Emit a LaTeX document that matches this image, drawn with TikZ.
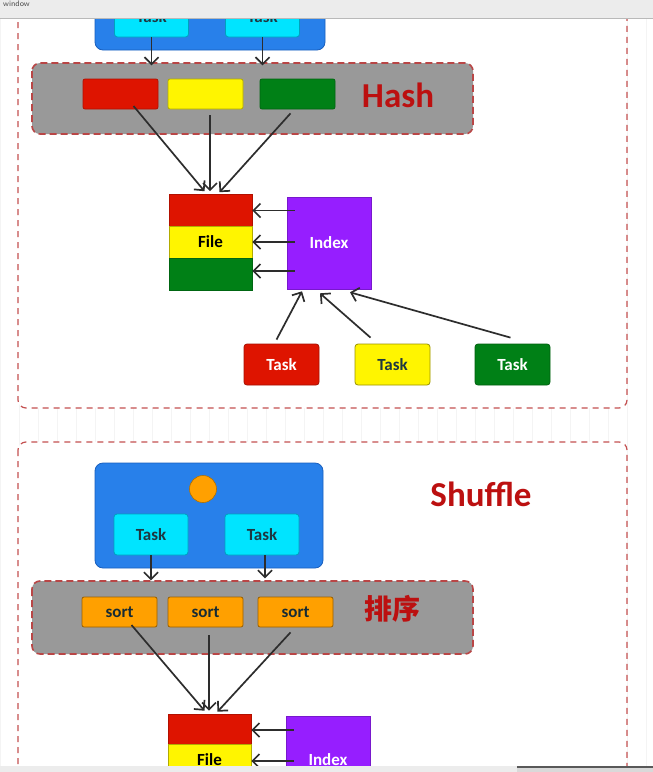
\documentclass[tikz,border=0pt]{standalone}
\usepackage{fontspec}
\setmainfont{Carlito}
\newfontfamily\cjk{Noto Sans CJK SC}
\usetikzlibrary{arrows.meta,calc}
\definecolor{hred}{RGB}{188,16,16}
\definecolor{dashc}{RGB}{196,80,80}
\definecolor{dashg}{RGB}{185,70,70}
\definecolor{bluebox}{RGB}{40,128,234}
\definecolor{blueedge}{RGB}{25,95,190}
\definecolor{cyanbox}{RGB}{0,228,255}
\definecolor{cyanedge}{RGB}{0,160,190}
\definecolor{grayp}{RGB}{153,153,153}
\definecolor{redb}{RGB}{222,20,0}
\definecolor{yellowb}{RGB}{255,245,0}
\definecolor{greenb}{RGB}{0,128,22}
\definecolor{purpleb}{RGB}{150,30,255}
\definecolor{orangeb}{RGB}{255,160,0}
\definecolor{darktxt}{RGB}{30,55,65}
\definecolor{linec}{RGB}{45,45,45}
\definecolor{gridc}{RGB}{244,244,244}
\definecolor{barc}{RGB}{236,236,236}
\tikzset{
  panel/.style={draw=dashc, dash pattern=on 6pt off 5pt, line width=1.2pt, rounded corners=8pt, fill=white},
  graypanel/.style={draw=dashg, dash pattern=on 7pt off 4pt, line width=1.6pt, rounded corners=8pt, fill=grayp},
  bluecont/.style={draw=blueedge, line width=0.8pt, fill=bluebox, rounded corners=8pt},
  cyantask/.style={draw=cyanedge, line width=0.8pt, fill=cyanbox, rounded corners=3pt, minimum width=74, minimum height=41, inner sep=0, font=\fontsize{17}{20}\selectfont\bfseries, text=darktxt},
  colbox/.style={rounded corners=2pt, minimum width=75, minimum height=30, inner sep=0, line width=0.8pt, font=\fontsize{17}{20}\selectfont\bfseries},
  taskbox/.style={rounded corners=3pt, minimum width=75, minimum height=41, inner sep=0, line width=0.8pt, font=\fontsize{17}{20}\selectfont\bfseries},
  band/.style={minimum width=83, minimum height=32, inner sep=0, line width=0.6pt, font=\fontsize{17}{20}\selectfont\bfseries},
  idxbox/.style={fill=purpleb, draw=purpleb!80!black, line width=0.6pt, minimum width=84, minimum height=92, inner sep=0, text=white, font=\fontsize{17}{20}\selectfont\bfseries},
  arr/.style={draw=linec, line width=1.7pt, -{Straight Barb[length=7pt,width=14pt]}},
  bigred/.style={text=hred, font=\fontsize{35}{40}\selectfont\bfseries}
}
\begin{document}
\begin{tikzpicture}[x=1pt,y=-1pt]
\useasboundingbox (0,0) rectangle (653,772);
\fill[white] (0,0) rectangle (653,772);
\draw[gridc, line width=0.6pt, step=19] (0,0) grid (653,772);

% ---------- Panel 1 ----------
\path[panel] (18,-30) rectangle (627,408);
\path[bluecont] (95,-55) rectangle (325,50);
\node[cyantask] (ta1) at (151.5,16.5) {Task};
\node[cyantask] (ta2) at (262.5,16.5) {Task};
\path[graypanel] (32,63) rectangle (473,134);
\draw[arr] (ta1.south) -- ($(ta1.south)+(0,28)$);
\draw[arr] (ta2.south) -- ($(ta2.south)+(0,28)$);
\node[colbox, fill=redb, draw=redb!80!black] (hr) at (120.5,94) {};
\node[colbox, fill=yellowb, draw=yellowb!70!black] (hy) at (205.5,94) {};
\node[colbox, fill=greenb, draw=greenb!80!black] (hg) at (297.5,94) {};
\node[bigred] (hash) at (398,95) {Hash};

\node[band, fill=redb, draw=redb!80!black] (fr) at (210.5,210.5) {};
\node[band, fill=yellowb, draw=yellowb!70!black] (fy) at (210.5,242) {File};
\node[band, fill=greenb, draw=greenb!80!black] (fg) at (210.5,274) {};
\node[idxbox] (idx) at (329,243) {Index};

\draw[arr] ($(hr.center)+(13,12)$) -- ($(fr.north)+(-6,-3)$);
\draw[arr] ($(hy.south)+(4.5,6)$) -- ($(fr.north)+(-0.5,-3)$);
\draw[arr] ($(hg.south)+(-7,4)$) -- ($(fr.north)+(9,-2)$);

\draw[arr] ($(idx.west |- fr.east)+(8,0)$) -- (fr.east);
\draw[arr] ($(idx.west |- fy.east)+(8,0)$) -- (fy.east);
\draw[arr] ($(idx.west |- fg.east)+(8,-3)$) -- ($(fg.east)+(0,-3)$);

\node[taskbox, fill=redb, draw=redb!75!black, text=white] (t1) at (281.5,364.5) {Task};
\node[taskbox, fill=yellowb, draw=yellowb!60!black, text=darktxt] (t2) at (392.5,364.5) {Task};
\node[taskbox, fill=greenb, draw=greenb!75!black, text=white] (t3) at (512.5,364.5) {Task};

\draw[arr] ($(t1.north)+(-5,-4)$) -- ($(idx.south)+(-27,2)$);
\draw[arr] ($(t2.north)+(-22,-6)$) -- ($(idx.south)+(-9,4)$);
\draw[arr] ($(t3.north)+(-2,-6)$) -- ($(idx.south)+(21,3)$);

% ---------- Panel 2 ----------
\path[panel] (18,442) rectangle (627,820);
\path[bluecont] (95,463) rectangle (323,568);
\node[circle, fill=orangeb, draw=orangeb!70!black, line width=0.6pt, minimum size=27, inner sep=0] (dot) at (203,489) {};
\node[cyantask] (tb1) at (151,534.5) {Task};
\node[cyantask] (tb2) at (262,534.5) {Task};
\node[bigred] (shuffle) at (481,494) {Shuffle};
\path[graypanel] (32,581) rectangle (473,654);
\draw[arr] (tb1.south) -- ($(tb1.south)+(0,25)$);
\draw[arr] ($(tb2.south)+(3,0)$) -- ($(tb2.south)+(3,23)$);
\node[colbox, fill=orangeb, draw=orangeb!60!black, text=darktxt!80!black] (s1) at (119.5,612) {sort};
\node[colbox, fill=orangeb, draw=orangeb!60!black, text=darktxt!80!black] (s2) at (205.5,612) {sort};
\node[colbox, fill=orangeb, draw=orangeb!60!black, text=darktxt!80!black] (s3) at (295.5,612) {sort};
\node[text=hred, font=\fontsize{28}{32}\selectfont\cjk\bfseries] (paixu) at (392,609) {排序};

\node[band, fill=redb, draw=redb!80!black, minimum height=30] (gr) at (209.5,729) {};
\node[band, fill=yellowb, draw=yellowb!70!black] (gy) at (209.5,760) {File};
\node[idxbox] (idx2) at (328,762) {};
\node[text=white, font=\fontsize{17}{20}\selectfont\bfseries] (idxt2) at (328,760) {Index};

\draw[arr] ($(s1.center)+(12,13)$) -- ($(gr.north)+(-5,-3)$);
\draw[arr] ($(s2.south)+(3.5,8)$) -- ($(gr.north)+(-0.5,-3)$);
\draw[arr] ($(s3.south)+(-5,5)$) -- ($(gr.north)+(8,-2)$);
\draw[arr] ($(idx2.west |- gr.east)+(8,1)$) -- ($(gr.east)+(0,1)$);
\draw[arr] ($(idx2.west |- gy.east)+(8,1)$) -- ($(gy.east)+(0,1)$);

% ---------- window chrome ----------
\fill[barc] (0,0) rectangle (653,18);
\draw[gray!55, line width=0.8pt] (0,18) -- (653,18);
\node[anchor=north west, inner sep=0, text=black!70, font=\fontsize{8}{9}\selectfont\sffamily] (wt) at (3,1) {window};
\fill[barc] (0,766) rectangle (653,772);
\fill[black!65] (517,766) rectangle (653,768);
\fill[black!15] (517,768) rectangle (653,772);
\end{tikzpicture}
\end{document}
